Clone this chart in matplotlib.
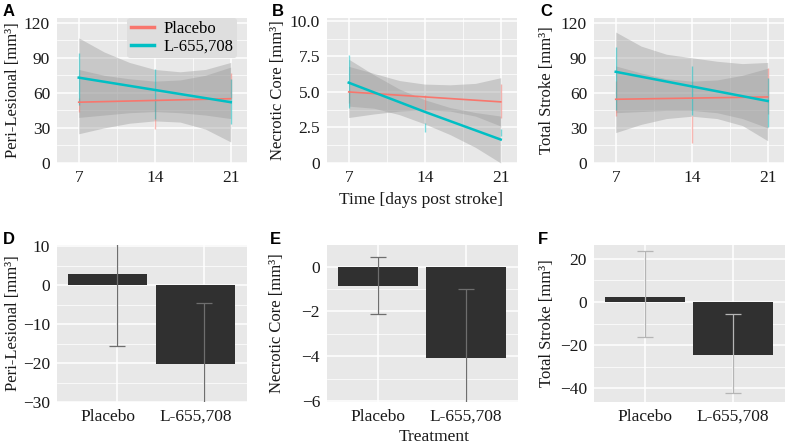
"""
Lesion volumes over time (A-C) and change per treatment (D-F).
"""

import matplotlib
matplotlib.use("Agg")
import matplotlib.pyplot as plt
from matplotlib.lines import Line2D

# ---- data ----
days = [7, 14, 21]
band_days = [7, 9.33, 11.67, 14, 16.33, 18.67, 21]

peri_placebo_fit = [52, 53.5, 55]
peri_drug_fit = [73, 62.5, 52]
peri_placebo_err_lo = [44, 29, 56]
peri_placebo_err_hi = [56, 55, 77]
peri_drug_err_lo = [50, 38, 33]
peri_drug_err_hi = [94, 80, 72]
peri_placebo_band_lo = [39, 41, 43, 44, 43, 41, 38]
peri_placebo_band_hi = [80, 75, 72, 70, 71, 75, 82]
peri_drug_band_lo = [25, 30, 34, 36, 35, 29, 18]
peri_drug_band_hi = [107, 95, 86, 80, 78, 80, 86]

necro_placebo_fit = [5.0, 4.65, 4.3]
necro_drug_fit = [5.65, 3.6, 1.65]
necro_placebo_err_lo = [4.2, 3.6, 3.2]
necro_placebo_err_hi = [5.1, 4.8, 5.55]
necro_drug_err_lo = [3.85, 2.15, 1.9]
necro_drug_err_hi = [7.6, 2.8, 2.4]
necro_placebo_band_lo = [3.2, 3.45, 3.65, 3.75, 3.65, 3.3, 2.6]
necro_placebo_band_hi = [6.8, 6.3, 5.8, 5.55, 5.5, 5.6, 6.0]
necro_drug_band_lo = [4.0, 3.85, 3.4, 2.75, 2.0, 1.1, 0.0]
necro_drug_band_hi = [7.3, 6.2, 5.2, 4.45, 3.9, 3.55, 3.3]

total_placebo_fit = [54.5, 55.5, 56.5]
total_drug_fit = [78, 65.5, 53]
total_placebo_err_lo = [40, 17, 42]
total_placebo_err_hi = [70, 40, 81]
total_drug_err_lo = [45, 41, 31]
total_drug_err_hi = [99, 83, 73]
total_placebo_band_lo = [43, 44, 45, 45, 43, 38, 30]
total_placebo_band_hi = [83, 77, 72, 70, 71, 75, 81]
total_drug_band_lo = [26, 33, 38, 40, 38, 32, 19]
total_drug_band_hi = [112, 100, 93, 90, 87, 85, 86]

treatments = ['Placebo', 'L-655,708']
peri_change = [2.8, -20.3]
peri_change_lo = [-15.5, -36]
peri_change_hi = [21, -4.6]
necro_change = [-0.85, -4.1]
necro_change_lo = [-2.1, -7.2]
necro_change_hi = [0.42, -1.0]
total_change = [2.5, -24.5]
total_change_lo = [-16.5, -42.5]
total_change_hi = [23.5, -5.5]

RED = '#F8766D'
CYAN = '#00BFC4'
BG = '#E8E8E8'
SERIF = 'Liberation Serif'

plt.rcParams['font.family'] = SERIF
plt.rcParams['font.size'] = 11

W, H = 785, 444
fig = plt.figure(figsize=(W / 100, H / 100), dpi=100)


def px_axes(left, top, right, bottom):
    return fig.add_axes([left / W, 1 - bottom / H, (right - left) / W, (bottom - top) / H])


def gg_style(ax, yticks, yminor):
    ax.set_facecolor(BG)
    for s in ax.spines.values():
        s.set_visible(False)
    ax.set_yticks(yticks)
    ax.set_yticks(yminor, minor=True)
    ax.grid(True, which='major', color='white', lw=1.1)
    ax.grid(True, which='minor', color='white', lw=0.5)
    ax.tick_params(which='both', length=0, pad=5, labelsize=12.5, labelcolor='#1a1a1a')
    ax.set_axisbelow(True)


def time_panel(ax, placebo, drug, ylim, yticks, yminor, ylabels=None):
    (p_fit, p_lo, p_hi, p_blo, p_bhi) = placebo
    (d_fit, d_lo, d_hi, d_blo, d_bhi) = drug
    ax.fill_between(band_days, d_blo, d_bhi, color='#999999', alpha=0.4, lw=0)
    ax.fill_between(band_days, p_blo, p_bhi, color='#999999', alpha=0.4, lw=0)
    ax.vlines(days, p_lo, p_hi, color=RED, lw=1, alpha=0.5)
    ax.vlines(days, d_lo, d_hi, color=CYAN, lw=1, alpha=0.5)
    ax.plot(days, p_fit, color=RED, lw=1.2)
    ax.plot(days, d_fit, color=CYAN, lw=1.8)
    ax.set_xlim(5.0, 22.5)
    ax.set_ylim(*ylim)
    gg_style(ax, yticks, yminor)
    ax.set_xticks(days)
    ax.set_xticks([10.5, 17.5], minor=True)
    if ylabels:
        ax.set_yticklabels(ylabels)


def bar_panel(ax, change, lo, hi, ylim, yticks, yminor, err_shift=0.0, err_color='#6e6e6e'):
    pos = [1, 2]
    ax.bar(pos, change, width=0.9, color='#303030', zorder=2)
    epos = [p + err_shift for p in pos]
    ax.errorbar(epos, change, yerr=[[c - l for c, l in zip(change, lo)],
                                    [h - c for c, h in zip(change, hi)]],
                fmt='none', ecolor=err_color, elinewidth=0.9, capsize=5.5,
                capthick=0.9, zorder=3)
    ax.set_xlim(0.42, 2.59)
    ax.set_ylim(*ylim)
    gg_style(ax, yticks, yminor)
    ax.set_xticks(pos)
    ax.set_xticklabels(treatments)
    ax.grid(False, axis='x', which='both')
    for p in epos:
        ax.axvline(p, color='white', lw=1.1, zorder=0)


# ---- top row ----
axA = px_axes(57, 18, 247, 163)
time_panel(axA,
           (peri_placebo_fit, peri_placebo_err_lo, peri_placebo_err_hi,
            peri_placebo_band_lo, peri_placebo_band_hi),
           (peri_drug_fit, peri_drug_err_lo, peri_drug_err_hi,
            peri_drug_band_lo, peri_drug_band_hi),
           (0, 124), [0, 30, 60, 90, 120], [15, 45, 75, 105])

axB = px_axes(327, 18, 517, 163)
time_panel(axB,
           (necro_placebo_fit, necro_placebo_err_lo, necro_placebo_err_hi,
            necro_placebo_band_lo, necro_placebo_band_hi),
           (necro_drug_fit, necro_drug_err_lo, necro_drug_err_hi,
            necro_drug_band_lo, necro_drug_band_hi),
           (0, 10.2), [0, 2.5, 5.0, 7.5, 10.0], [1.25, 3.75, 6.25, 8.75],
           ylabels=['0', '2.5', '5.0', '7.5', '10.0'])

axC = px_axes(594, 18, 784, 163)
time_panel(axC,
           (total_placebo_fit, total_placebo_err_lo, total_placebo_err_hi,
            total_placebo_band_lo, total_placebo_band_hi),
           (total_drug_fit, total_drug_err_lo, total_drug_err_hi,
            total_drug_band_lo, total_drug_band_hi),
           (0, 124), [0, 30, 60, 90, 120], [15, 45, 75, 105])

handles = [Line2D([], [], color=RED, lw=2.5), Line2D([], [], color=CYAN, lw=2.5)]
leg = axA.legend(handles, treatments, loc='upper left', bbox_to_anchor=(0.37, 1.0),
                 frameon=True, facecolor='#DEDEDE', edgecolor='none', framealpha=1,
                 fontsize=12, handlelength=1.4, handletextpad=0.6,
                 labelspacing=0.1, borderpad=0.2, borderaxespad=0)

# ---- bottom row ----
axD = px_axes(57, 245, 247, 402)
bar_panel(axD, peri_change, peri_change_lo, peri_change_hi, (-30, 10.3),
          [-30, -20, -10, 0, 10], [-25, -15, -5, 5], err_shift=0.1)

axE = px_axes(327, 245, 518, 402)
bar_panel(axE, necro_change, necro_change_lo, necro_change_hi, (-6.05, 0.97),
          [-6, -4, -2, 0], [-5, -3, -1])

axF = px_axes(594, 245, 785, 402)
bar_panel(axF, total_change, total_change_lo, total_change_hi, (-46.5, 26.5),
          [-40, -20, 0, 20], [-30, -10, 10], err_color='#b5b5b5')

# ---- labels ----
ylabels = [
    (13, 90.5, 'Peri-Lesional [mm³]'),
    (278, 90.5, 'Necrotic Core [mm³]'),
    (547, 90.5, 'Total Stroke [mm³]'),
    (13, 323.5, 'Peri-Lesional [mm³]'),
    (277, 323.5, 'Necrotic Core [mm³]'),
    (547, 323.5, 'Total Stroke [mm³]'),
]
for x, y, t in ylabels:
    fig.text(x / W, 1 - y / H, t, rotation=90, ha='center', va='center',
             fontsize=12, color='#1a1a1a')

fig.text(421 / W, 1 - 200 / H, 'Time [days post stroke]', ha='center', va='center',
         fontsize=12.5, color='#1a1a1a')
fig.text(434 / W, 1 - 437 / H, 'Treatment', ha='center', va='center',
         fontsize=12.5, color='#1a1a1a')

letters = [(3, 12, 'A'), (272, 12, 'B'), (540, 12, 'C'),
           (3, 239, 'D'), (270, 239, 'E'), (538, 239, 'F')]
for x, y, t in letters:
    fig.text(x / W, 1 - y / H, t, ha='left', va='center', fontsize=12,
             fontweight='bold', family='Liberation Sans')

fig.savefig('out.png', dpi=100)
